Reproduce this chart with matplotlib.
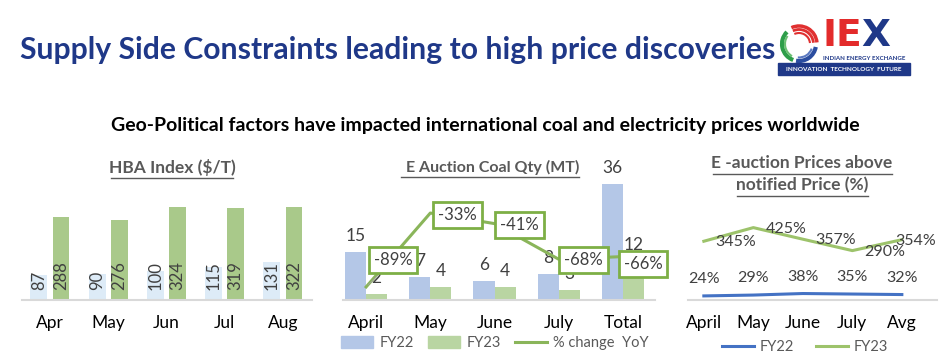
import matplotlib
matplotlib.use("Agg")
import matplotlib.pyplot as plt
from matplotlib.patches import Patch, Rectangle, Arc
from matplotlib.lines import Line2D

plt.rcParams['font.family'] = ['Lato', 'DejaVu Sans']

# HBA index ($/T)
hba_months = ["Apr", "May", "Jun", "Jul", "Aug"]
hba_fy22 = [87, 90, 100, 115, 131]
hba_fy23 = [288, 276, 324, 319, 322]

# E auction coal quantity (MT)
coal_cats = ["April", "May", "June", "July", "Total"]
coal_fy22 = [15, 7, 6, 8, 36]
coal_fy23 = [2, 4, 4, 3, 12]
coal_change = [-89, -33, -41, -68, -66]

# E-auction prices above notified price (%)
prem_cats = ["April", "May", "June", "July", "Avg"]
prem_fy22 = [24, 29, 38, 35, 32]
prem_fy23 = [345, 425, 357, 290, 354]

W, H = 940, 363
fig = plt.figure(figsize=(W / 100, H / 100), dpi=100)
fig.patch.set_facecolor("white")


def px_axes(x0, y0, x1, y1):
    # pixel box (top-left origin) -> figure axes
    return fig.add_axes([x0 / W, 1 - y1 / H, (x1 - x0) / W, (y1 - y0) / H])


def fx(x):
    return x / W


def fy(y):
    return 1 - y / H


DARK = "#404040"
GREY = "#595959"
AXIS = "#D9D9D9"


def clean(ax):
    for s in ["top", "right", "left"]:
        ax.spines[s].set_visible(False)
    ax.spines["bottom"].set_color(AXIS)
    ax.spines["bottom"].set_linewidth(1.5)
    ax.set_yticks([])
    ax.tick_params(axis="x", length=0, pad=11, labelsize=12.5, labelcolor="black")
    ax.patch.set_alpha(0)


# titles
fig.text(fx(398), fy(50), "Supply Side Constraints leading to high price discoveries",
         ha="center", va="center", fontsize=21.7, fontweight="bold", color="#1F3888")
fig.text(fx(485), fy(125), "Geo-Political factors have impacted international coal and electricity prices worldwide",
         ha="center", va="center", fontsize=14, fontweight="bold", color="black")

# logo
lg = px_axes(776, 15, 916, 80)
lg.set_xlim(776, 916)
lg.set_ylim(80, 15)
lg.axis("off")
for r, w in [(36, 2.5), (29, 2), (22, 1.5)]:
    lg.add_patch(Arc((799, 44), r, r, theta1=245, theta2=355, color="#E03030", lw=w))
lg.add_patch(Arc((799, 44), 34, 34, theta1=110, theta2=225, color="#2E9E4A", lw=3))
lg.add_patch(Arc((799, 44), 28, 28, theta1=120, theta2=215, color="#6BBF72", lw=1.5))
lg.add_patch(Arc((799, 44), 34, 34, theta1=10, theta2=100, color="#2B4DA0", lw=3))
lg.add_patch(Arc((799, 44), 27, 27, theta1=20, theta2=95, color="#5A78C0", lw=1.5))
ie = lg.text(822, 36, "IE", ha="left", va="center", fontsize=27, fontweight="heavy",
             color="#E32B2B", family="DejaVu Sans")
lg.annotate("X", xy=(1, 0), xycoords=ie, ha="left", va="bottom", fontsize=27,
            fontweight="heavy", color="#1F3888", family="DejaVu Sans")
lg.text(864, 58.5, "INDIAN ENERGY EXCHANGE", ha="center", va="center", fontsize=4.4,
        fontweight="bold", color="#1F3888")
lg.add_patch(Rectangle((778, 63), 132, 12, color="#1F3888"))
lg.text(844, 69.5, "INNOVATION  TECHNOLOGY  FUTURE", ha="center", va="center", fontsize=4.6,
        fontweight="bold", color="white")

# panel 1: HBA index
ax1 = px_axes(22, 160, 312, 300)
x = range(len(hba_months))
ax1.bar([i - 0.19 for i in x], hba_fy22, width=0.29, color="#DDEBF7")
ax1.bar([i + 0.19 for i in x], hba_fy23, width=0.29, color="#A9C98A")
for i in x:
    ax1.annotate(str(hba_fy22[i]), (i - 0.19, 0), xytext=(0, 10), textcoords="offset pixels",
                 rotation=90, ha="center", va="bottom", fontsize=12, color=DARK)
    ax1.annotate(str(hba_fy23[i]), (i + 0.19, 0), xytext=(0, 10), textcoords="offset pixels",
                 rotation=90, ha="center", va="bottom", fontsize=12, color=DARK)
ax1.set_xlim(-0.48, 4.5)
ax1.set_ylim(0, 486)
ax1.set_xticks(list(x))
ax1.set_xticklabels(hba_months)
clean(ax1)
fig.text(fx(172), fy(168), "HBA Index ($/T)", ha="center", va="center", fontsize=12.5,
         fontweight="bold", color=GREY)
fig.add_artist(Line2D([fx(111), fx(233)], [fy(178), fy(178)], color=GREY, lw=1))

# panel 2: coal quantity
ax2 = px_axes(343, 160, 655, 300)
x = range(len(coal_cats))
ax2.bar([i - 0.165 for i in x], coal_fy22, width=0.33, color="#B4C7E7")
ax2.bar([i + 0.165 for i in x], coal_fy23, width=0.33, color="#B9D5A2")
for i in x:
    ax2.annotate(str(coal_fy22[i]), (i - 0.165, coal_fy22[i]), xytext=(0, 8),
                 textcoords="offset pixels", ha="center", va="bottom", fontsize=12.5, color=DARK)
    ax2.annotate(str(coal_fy23[i]), (i + 0.165, coal_fy23[i]), xytext=(0, 8),
                 textcoords="offset pixels", ha="center", va="bottom", fontsize=12.5, color=DARK)
ax2.set_xlim(-0.36, 4.5)
ax2.set_ylim(0, 43.5)
ax2.set_xticks(list(x))
ax2.set_xticklabels(coal_cats)
clean(ax2)
t2 = ax2.twinx()
t2.plot(list(x), coal_change, color="#8AB55A", lw=2.2, zorder=3)
t2.set_ylim(-98.9, 7.2)
t2.axis("off")
offs = [(27, 27), (27, -2), (25, -1), (25, -1), (20, -7)]
for i in x:
    t2.annotate("%d%%" % coal_change[i], (i, coal_change[i]), xytext=offs[i],
                textcoords="offset pixels", ha="center", va="center", fontsize=12, color=DARK,
                bbox=dict(boxstyle="square,pad=0.3", fc="white", ec="#7DAF45", lw=2), zorder=5,
                arrowprops=dict(arrowstyle="-", color="#A0A0A0", lw=0.6) if i == 0 else None)
fig.text(fx(493), fy(167), "E Auction Coal Qty (MT)", ha="center", va="center", fontsize=11.5,
         fontweight="bold", color=GREY)
fig.add_artist(Line2D([fx(401), fx(579)], [fy(177), fy(177)], color=GREY, lw=1))
ax2.legend(handles=[Patch(color="#B4C7E7", label="FY22"), Patch(color="#B9D5A2", label="FY23"),
                    Line2D([], [], color="#8AB55A", lw=2.2, label="% change  YoY")],
           loc="center", bbox_to_anchor=(fx(495), fy(343)), bbox_transform=fig.transFigure,
           ncol=3, frameon=False, fontsize=10.5, handlelength=2.2, handleheight=0.8,
           columnspacing=1.0, handletextpad=0.4, labelcolor=GREY)

# panel 3: prices above notified price
ax3 = px_axes(688, 160, 937, 300)
x = list(range(len(prem_cats)))
ax3.plot(x, prem_fy22, color="#4472C4", lw=2.2)
ax3.plot(x, prem_fy23, color="#9DC36B", lw=2.2)
offs3 = [11, 12, 12, 12, -7]
for i in x:
    ax3.annotate("%d%%" % prem_fy22[i], (i, prem_fy22[i]), xytext=(0, 17),
                 textcoords="offset pixels", ha="center", va="center", fontsize=11.5, color=DARK)
    ax3.annotate("%d%%" % prem_fy23[i], (i, prem_fy23[i]), xytext=(offs3[i], -1),
                 textcoords="offset pixels", ha="left", va="center", fontsize=11.5, color=DARK)
ax3.set_xlim(-0.32, 4.71)
ax3.set_ylim(0, 822)
ax3.set_xticks(x)
ax3.set_xticklabels(prem_cats)
clean(ax3)
fig.text(fx(802), fy(163), "E -auction Prices above", ha="center", va="center", fontsize=12.5,
         fontweight="bold", color=GREY)
fig.text(fx(802), fy(185), "notified Price (%)", ha="center", va="center", fontsize=12.5,
         fontweight="bold", color=GREY)
fig.add_artist(Line2D([fx(713), fx(892)], [fy(174), fy(174)], color=GREY, lw=1))
fig.add_artist(Line2D([fx(737), fx(868)], [fy(196), fy(196)], color=GREY, lw=1))
ax3.legend(handles=[Line2D([], [], color="#4472C4", lw=2.2, label="FY22"),
                    Line2D([], [], color="#9DC36B", lw=2.2, label="FY23")],
           loc="center", bbox_to_anchor=(fx(805), fy(347)), bbox_transform=fig.transFigure,
           ncol=2, frameon=False, fontsize=10.5, handlelength=2.2, columnspacing=1.5,
           handletextpad=0.4, labelcolor=GREY)

fig.savefig("out.png", dpi=100)
